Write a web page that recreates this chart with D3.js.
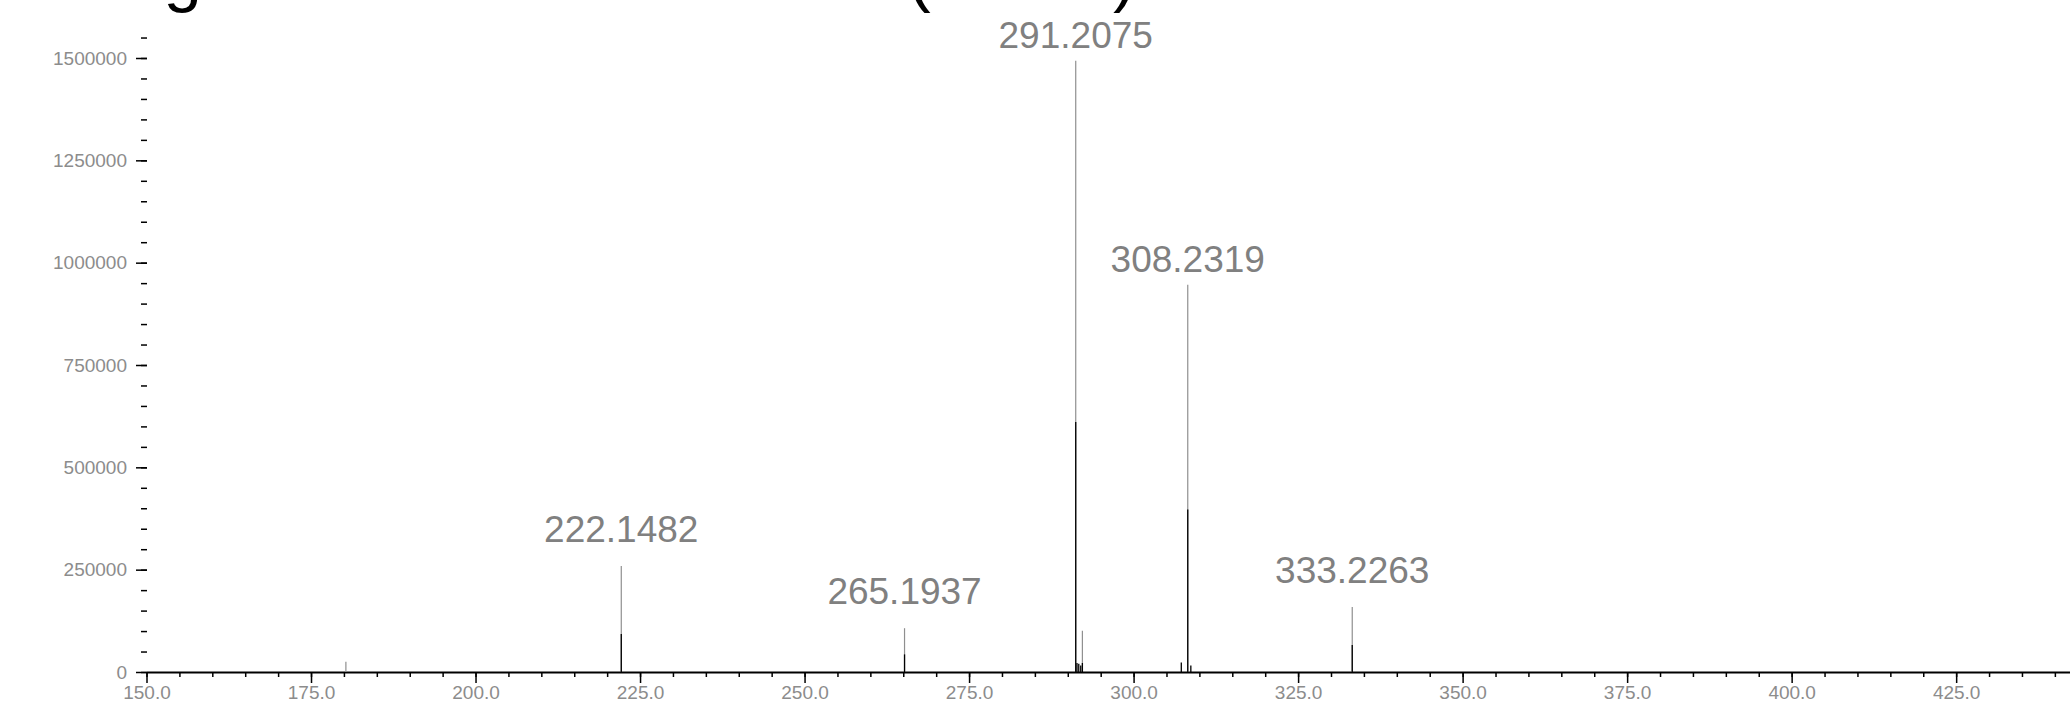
<!DOCTYPE html>
<html>
<head>
<meta charset="utf-8">
<script src="https://cdn.jsdelivr.net/npm/d3@7.9.0/dist/d3.min.js"></script>
<style>
    html, body { margin: 0; padding: 0; background: #fff; }
    svg { display: block; font-family: "Liberation Sans", Arial, sans-serif; }
    .tick text { fill: #8c8c8c; font-size: 19px; }
    .tick line { stroke: #000; stroke-width: 1.5; }
    .x-axis .domain { stroke: #000; stroke-width: 2; }
</style>
</head>
<body>
<div id="chart"></div>
<script>
// gray series (full peak heights)
const grayMz = [180.3, 222.1482, 265.1937, 291.2075, 292.22, 308.2319, 333.2263];
const grayIntensity = [25000, 259000, 107000, 1493000, 101000, 946000, 159000];

// black series drawn on top
const blackMz = [222.1482, 265.1937, 291.2075, 291.4, 291.67, 291.97, 292.22, 307.25, 308.2319, 308.7, 333.2263];
const blackIntensity = [93000, 43000, 611000, 22000, 20000, 16000, 22000, 23000, 397000, 16000, 66000];

// labelled peaks
const labelMz = [222.1482, 265.1937, 291.2075, 308.2319, 333.2263];
const labelIntensity = [259000, 107000, 1493000, 946000, 159000];

const xMajorTicks = [150, 175, 200, 225, 250, 275, 300, 325, 350, 375, 400, 425];
const yMajorTicks = [0, 250000, 500000, 750000, 1000000, 1250000, 1500000];

const titleText = 'Fragmentation of 308.2319 (MS2+)';

const width = 2070;
const height = 703;

function renderChart() {
    const svg = d3.select('#chart')
        .append('svg')
        .attr('width', width)
        .attr('height', height);

    const xScale = d3.scaleLinear()
        .domain([150, 442.3])
        .range([146.5, 2070]);

    const yScale = d3.scaleLinear()
        .domain([0, 1500000])
        .range([672, 58]);

    // minor x ticks every 5
    svg.append('g')
        .attr('transform', `translate(0, ${yScale(0)})`)
        .call(d3.axisBottom(xScale).tickValues(d3.range(150, 445, 5)).tickSize(5).tickFormat(''))
        .call(g => g.select('.domain').remove());

    // x axis
    svg.append('g')
        .attr('class', 'x-axis')
        .attr('transform', `translate(0, ${yScale(0)})`)
        .call(d3.axisBottom(xScale)
            .tickValues(xMajorTicks)
            .tickSize(11)
            .tickSizeOuter(0)
            .tickPadding(3)
            .tickFormat(d3.format('.1f')));

    // minor y ticks every 50000
    svg.append('g')
        .attr('transform', 'translate(147, 0)')
        .call(d3.axisLeft(yScale).tickValues(d3.range(0, 1550001, 50000)).tickSize(6).tickFormat(''))
        .call(g => g.select('.domain').remove());

    // y axis, no spine
    svg.append('g')
        .attr('class', 'y-axis')
        .attr('transform', 'translate(147, 0)')
        .call(d3.axisLeft(yScale)
            .tickValues(yMajorTicks)
            .tickSize(11)
            .tickPadding(9)
            .tickFormat(d3.format('d')))
        .call(g => g.select('.domain').remove());

    const gray = grayMz.map((mz, i) => ({ mz, intensity: grayIntensity[i] }));
    const black = blackMz.map((mz, i) => ({ mz, intensity: blackIntensity[i] }));

    svg.append('g')
        .selectAll('line')
        .data(gray)
        .join('line')
        .attr('x1', d => xScale(d.mz))
        .attr('x2', d => xScale(d.mz))
        .attr('y1', yScale(0))
        .attr('y2', d => yScale(d.intensity))
        .attr('stroke', '#8f8f8f')
        .attr('stroke-width', 1.2);

    svg.append('g')
        .selectAll('line')
        .data(black)
        .join('line')
        .attr('x1', d => xScale(d.mz))
        .attr('x2', d => xScale(d.mz))
        .attr('y1', yScale(0))
        .attr('y2', d => yScale(d.intensity))
        .attr('stroke', '#000')
        .attr('stroke-width', 1.3);

    // peak labels, tall peaks sit a little closer to their label
    svg.append('g')
        .selectAll('text')
        .data(labelMz)
        .join('text')
        .attr('x', d => xScale(d))
        .attr('y', (d, i) => {
            const top = yScale(labelIntensity[i]);
            return top - (yScale(0) - top > 300 ? 13 : 24);
        })
        .attr('text-anchor', 'middle')
        .attr('fill', '#808080')
        .attr('font-size', 37)
        .text(d => d.toFixed(4));

    // title sits almost fully above the top edge
    svg.append('text')
        .attr('x', 60)
        .attr('y', -1.5)
        .attr('fill', '#000')
        .attr('font-size', 69)
        .text(titleText);
}

renderChart();
</script>
</body>
</html>
